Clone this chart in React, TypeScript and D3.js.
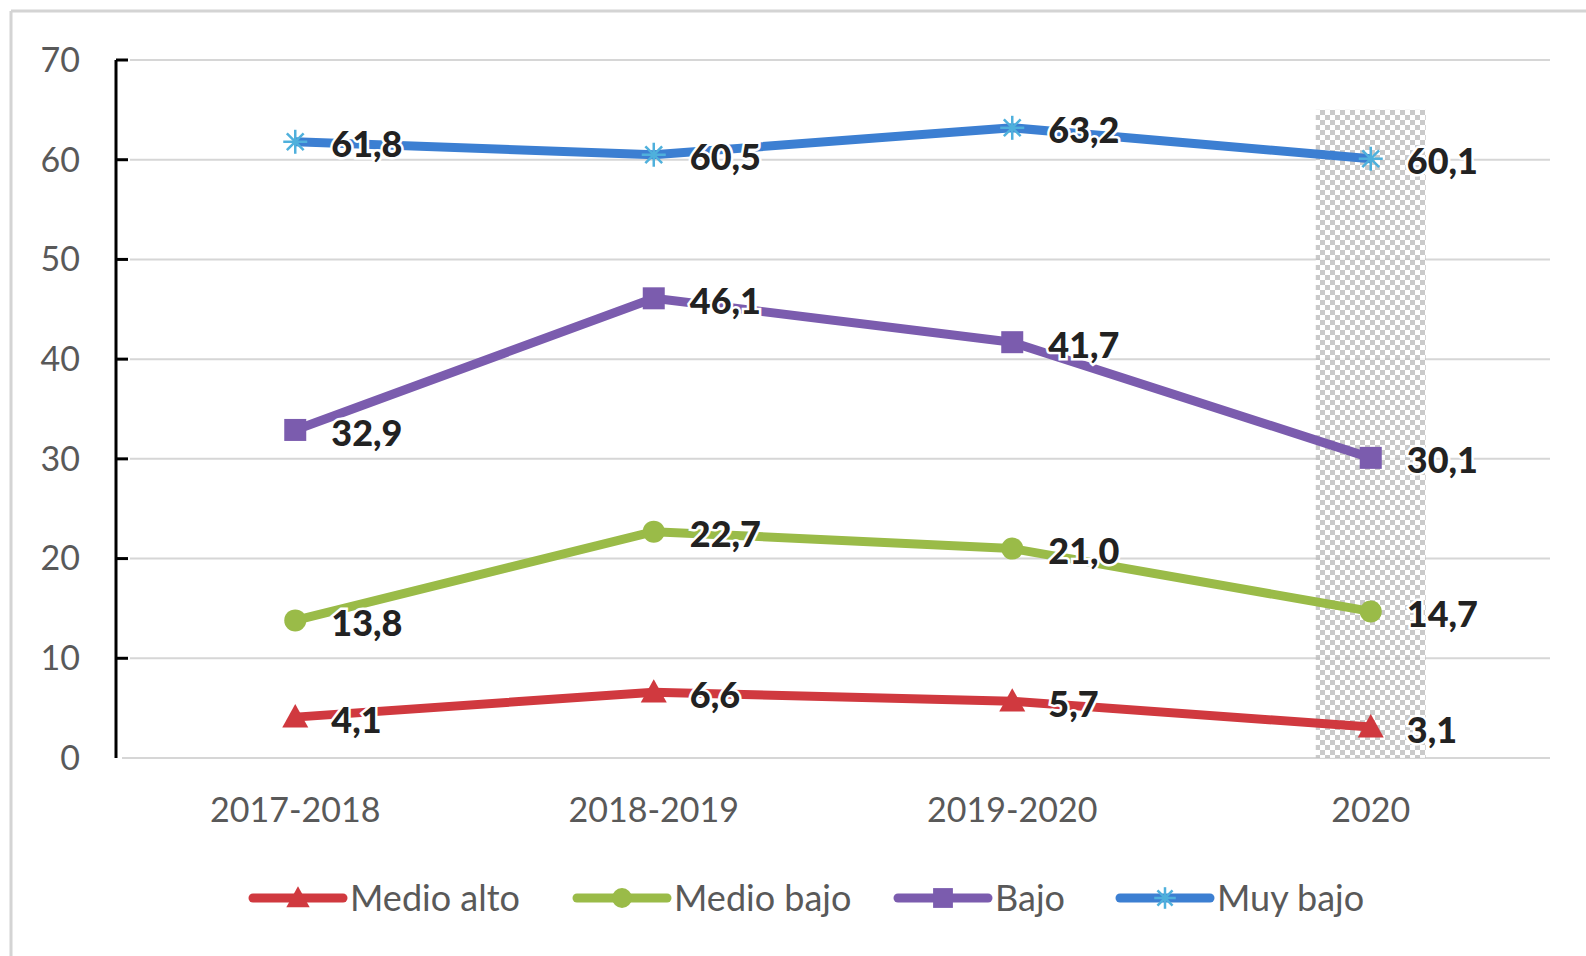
import * as d3 from "d3";

const periods = ["2017-2018", "2018-2019", "2019-2020", "2020"];
const medioAlto = [4.1, 6.6, 5.7, 3.1];
const medioBajo = [13.8, 22.7, 21.0, 14.7];
const bajo = [32.9, 46.1, 41.7, 30.1];
const muyBajo = [61.8, 60.5, 63.2, 60.1];
const yTicks = [0, 10, 20, 30, 40, 50, 60, 70];
const highlightPeriod = "2020";
const highlightTop = 65;

const series = [
  { name: "Medio alto", values: medioAlto, color: "#d0393f", marker: "triangle", mcolor: "#d0393f" },
  { name: "Medio bajo", values: medioBajo, color: "#9abb48", marker: "circle", mcolor: "#9abb48" },
  { name: "Bajo", values: bajo, color: "#7b5cae", marker: "square", mcolor: "#7b5cae" },
  { name: "Muy bajo", values: muyBajo, color: "#3c7fd2", marker: "star", mcolor: "#4fb0dc" },
];

const W = 1586;
const H = 956;
const left = 116;
const right = 1550;
const font = "Lato, 'Open Sans', sans-serif";

function Marker({ type, x, y, color, s = 1 }) {
  if (type === "triangle") {
    const r = 13 * s;
    return <path d={`M${x},${y - r}L${x + r},${y + r * 0.8}L${x - r},${y + r * 0.8}Z`} fill={color} />;
  }
  if (type === "circle") return <circle cx={x} cy={y} r={11 * s} fill={color} />;
  if (type === "square") {
    const r = 11 * s;
    return <rect x={x - r} y={y - r} width={2 * r} height={2 * r} fill={color} />;
  }
  const r = 12 * s;
  return (
    <g stroke={color} strokeWidth={2.5}>
      <line x1={x - r} y1={y} x2={x + r} y2={y} />
      <line x1={x - r * 0.7} y1={y - r * 0.7} x2={x + r * 0.7} y2={y + r * 0.7} />
      <line x1={x - r * 0.7} y1={y + r * 0.7} x2={x + r * 0.7} y2={y - r * 0.7} />
      <line x1={x} y1={y - r} x2={x} y2={y + r} />
    </g>
  );
}

export default function App() {
  const x = d3.scaleBand().domain(periods).range([left, right]);
  const y = d3.scaleLinear().domain([0, 70]).range([758, 60]);
  const cx = (p: string) => (x(p) as number) + x.bandwidth() / 2;
  const line = d3
    .line<number>()
    .x((_, i) => cx(periods[i]))
    .y((d) => y(d));

  const legendX = [253, 577, 898, 1120];

  return (
    <svg width={W} height={H} style={{ position: "absolute", left: 0, top: 0, background: "#fff" }}>
      <defs>
        <pattern id="chk" width="10" height="10" patternUnits="userSpaceOnUse">
          <rect width="10" height="10" fill="#fff" />
          <rect width="5" height="5" fill="#bdbdbd" />
          <rect x="5" y="5" width="5" height="5" fill="#bdbdbd" />
        </pattern>
      </defs>
      <line x1={11} y1={11} x2={W} y2={11} stroke="#d4d4d4" strokeWidth={3} />
      <line x1={11} y1={11} x2={11} y2={H} stroke="#d4d4d4" strokeWidth={3} />

      {yTicks.map((t) => (
        <g key={t}>
          <line x1={t === 0 ? 122 : 130} x2={right} y1={y(t)} y2={y(t)} stroke="#d6d6d6" strokeWidth={2} />
          <text x={80} y={y(t)} dy="0.35em" textAnchor="end" fontFamily={font} fontSize={34} fill="#595959">
            {t}
          </text>
        </g>
      ))}

      <rect
        x={cx(highlightPeriod) - 55}
        y={y(highlightTop)}
        width={110}
        height={y(0) - y(highlightTop)}
        fill="url(#chk)"
        opacity={0.8}
      />

      <line x1={left} x2={left} y1={y(70)} y2={y(0)} stroke="#000" strokeWidth={3} />
      {yTicks.filter((t) => t > 0).map((t) => (
        <line key={t} x1={left} x2={left + 12} y1={y(t)} y2={y(t)} stroke="#000" strokeWidth={3} />
      ))}

      {periods.map((p) => (
        <text key={p} x={cx(p)} y={810} dy="0.35em" textAnchor="middle" fontFamily={font} fontSize={34} fill="#595959">
          {p}
        </text>
      ))}

      {series.map((s) => (
        <g key={s.name}>
          <path d={line(s.values) as string} fill="none" stroke={s.color} strokeWidth={9} strokeLinejoin="round" />
          {s.values.map((v, i) => (
            <Marker key={i} type={s.marker} x={cx(periods[i])} y={y(v)} color={s.mcolor} />
          ))}
        </g>
      ))}
      {series.map((s) =>
        s.values.map((v, i) => (
          <text
            key={s.name + i}
            x={cx(periods[i]) + 36}
            y={y(v) + 3}
            dy="0.35em"
            fontFamily={font}
            fontWeight={900}
            fontSize={36}
            fill="#222"
            stroke="#fff"
            strokeWidth={5}
            paintOrder="stroke"
          >
            {v.toFixed(1).replace(".", ",")}
          </text>
        ))
      )}

      {series.map((s, i) => (
        <g key={s.name}>
          <line x1={legendX[i]} x2={legendX[i] + 90} y1={898} y2={898} stroke={s.color} strokeWidth={9} strokeLinecap="round" />
          <Marker type={s.marker} x={legendX[i] + 45} y={898} color={s.mcolor} s={0.9} />
          <text x={legendX[i] + 97} y={898} dy="0.35em" fontFamily={font} fontSize={36} fill="#595959">
            {s.name}
          </text>
        </g>
      ))}
    </svg>
  );
}
